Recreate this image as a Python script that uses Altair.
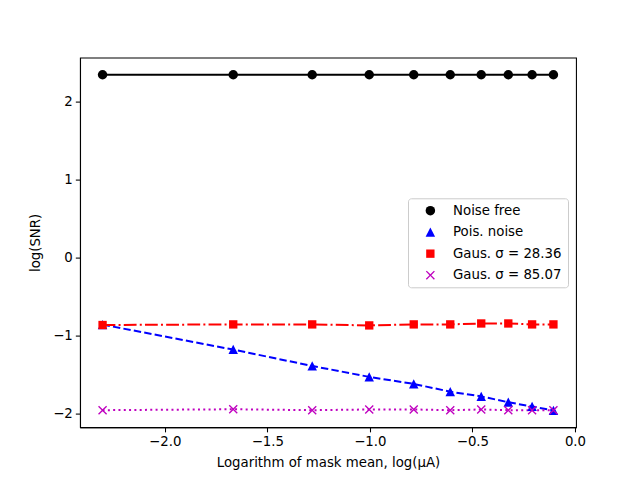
import altair as alt
import pandas as pd
import math

# ---- data ----
x_vals = [-2.303, -1.666, -1.281, -1.003, -0.786, -0.608, -0.457, -0.325, -0.209, -0.105]
noise_free = [2.344, 2.344, 2.344, 2.344, 2.344, 2.344, 2.344, 2.344, 2.344, 2.344]
pois_noise = [-0.86, -1.18, -1.39, -1.53, -1.62, -1.72, -1.78, -1.855, -1.91, -1.96]
gaus_28 = [-0.865, -0.857, -0.857, -0.87, -0.857, -0.857, -0.845, -0.845, -0.857, -0.857]
gaus_85 = [-1.957, -1.945, -1.957, -1.948, -1.948, -1.957, -1.948, -1.957, -1.957, -1.957]

series_names = ["Noise free", "Pois. noise", "Gaus. σ = 28.36", "Gaus. σ = 85.07"]
series_vals = [noise_free, pois_noise, gaus_28, gaus_85]
colors = ["#000000", "#0000ff", "#ff0000", "#bf00bf"]
dashes = [[1, 0], [7.4, 3.2], [12.8, 3.2, 2, 3.2], [2, 3.3]]

rows = []
for name, vals in zip(series_names, series_vals):
    for x, y in zip(x_vals, vals):
        rows.append({"x": x, "y": y, "series": name})
df = pd.DataFrame(rows)

# ---- marker shapes (unit box -1..1) ----
def x_path(c=0.85, d=0.14):
    e = d / math.sqrt(2)
    i = d * math.sqrt(2)
    pts = [(c - e, c + e), (c + e, c - e), (i, 0), (c + e, -(c - e)), (c - e, -(c + e)), (0, -i),
           (-(c - e), -(c + e)), (-(c + e), -(c - e)), (-i, 0), (-(c + e), c - e), (-(c - e), c + e), (0, i)]
    return "M" + "L".join(f"{px:.3f},{py:.3f}" for px, py in pts) + "Z"

shapes = [
    "circle",
    "M0,-1L1,0.95L-1,0.95Z",
    "M-0.88,-0.88H0.88V0.88H-0.88Z",
    x_path(),
]

xscale = alt.Scale(domain=[-2.413, 0.005], nice=False, zero=False)
yscale = alt.Scale(domain=[-2.175, 2.564], nice=False, zero=False)

xaxis = alt.Axis(values=[-2.0, -1.5, -1.0, -0.5, 0.0], format=".1f", grid=False,
                 title="Logarithm of mask mean, log(μA)", labelPadding=3, titlePadding=7)
yaxis = alt.Axis(values=[-2, -1, 0, 1, 2], format="d", grid=False,
                 title="log(SNR)", labelPadding=3, titlePadding=10)

base = alt.Chart(df)

line_layers = []
for name, col, dash in zip(series_names, colors, dashes):
    line_layers.append(
        base.transform_filter(alt.datum.series == name)
        .mark_line(color=col, strokeWidth=2, strokeDash=dash)
        .encode(x=alt.X("x:Q", scale=xscale, axis=xaxis),
                y=alt.Y("y:Q", scale=yscale, axis=yaxis))
    )

points = base.mark_point(filled=True, size=90, opacity=1).encode(
    x=alt.X("x:Q", scale=xscale, axis=xaxis),
    y=alt.Y("y:Q", scale=yscale, axis=yaxis),
    color=alt.Color("series:N", scale=alt.Scale(domain=series_names, range=colors),
                    sort=series_names,
                    legend=alt.Legend(title=None, orient="none", legendX=328, legendY=140.7,
                                      padding=5.7, rowPadding=7.5, symbolOffset=10,
                                      labelOffset=16, labelFontSize=13.33,
                                      labelFont="DejaVu Sans", labelColor="#000000",
                                      symbolSize=90, strokeColor="#cccccc",
                                      fillColor="rgba(255,255,255,0.8)", cornerRadius=3,
                                      symbolStrokeWidth=0)),
    shape=alt.Shape("series:N", scale=alt.Scale(domain=series_names, range=shapes),
                    sort=series_names),
)

chart = alt.layer(*line_layers, points).properties(
    width=496, height=369.6,
    padding={"left": 72, "top": 49.6, "right": 56, "bottom": 44},
    autosize=alt.AutoSizeParams(type="none"),
    background="#ffffff",
).configure_view(
    stroke="#000000", strokeWidth=1.07
).configure_axis(
    domainColor="#000000", domainWidth=1.07, tickColor="#000000", tickWidth=1.07,
    tickSize=4.67, labelFont="DejaVu Sans", labelFontSize=13.33, labelColor="#000000",
    titleFont="DejaVu Sans", titleFontSize=13.33, titleFontWeight="normal",
    titleColor="#000000",
)

chart.save("out.html", embed_options={"renderer": "svg", "actions": False})
